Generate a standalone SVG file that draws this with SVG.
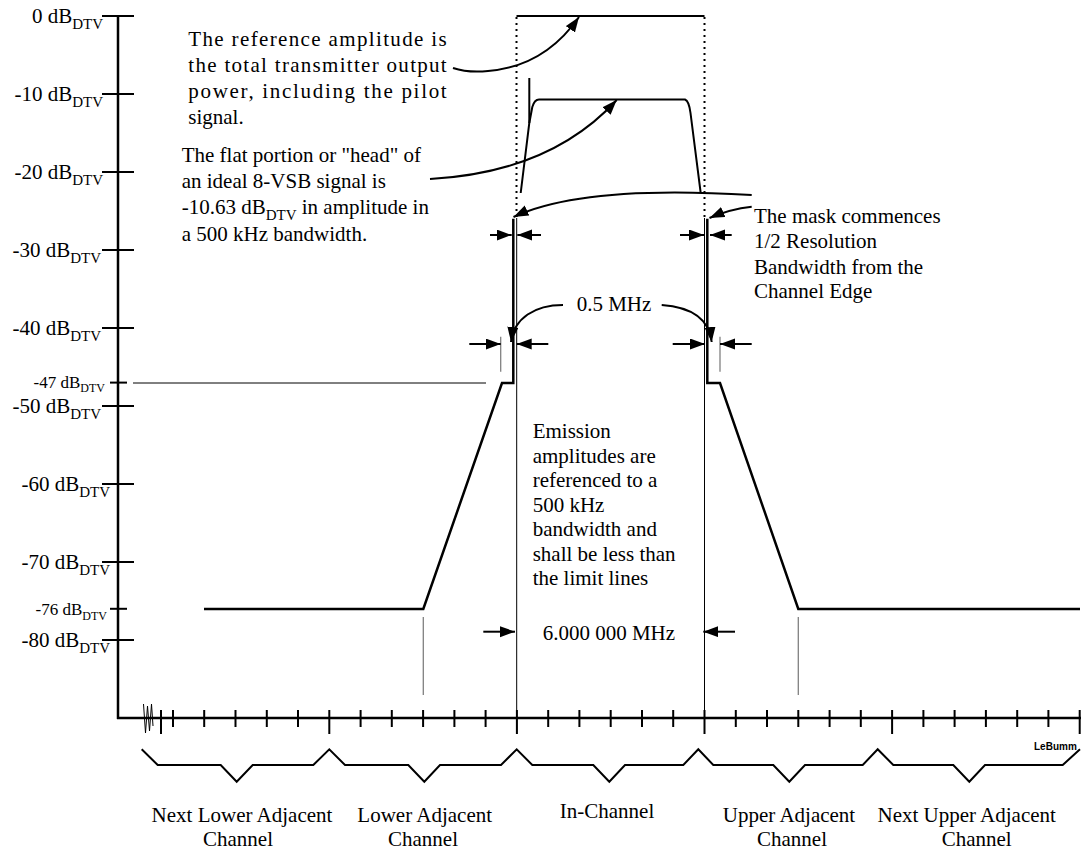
<svg xmlns="http://www.w3.org/2000/svg" width="1084" height="850" viewBox="0 0 1084 850">
  <style>
    .t { font-family: "Liberation Serif", "Times New Roman", serif; font-size: 21px; fill: #000; }
    .sub { font-size: 15px; }
    .small { font-size: 17px; }
    .smallsub { font-size: 12px; }
    .ax { stroke: #000; stroke-width: 2.5; fill: none; }
    .tk { stroke: #000; stroke-width: 2; fill: none; }
    .mask { stroke: #000; stroke-width: 2.5; fill: none; stroke-linejoin: miter; }
    .thin { stroke: #000; stroke-width: 1; fill: none; }
    .gray { stroke: #808080; stroke-width: 1.3; fill: none; }
    .dot { stroke: #000; stroke-width: 2; stroke-dasharray: 2 4; fill: none; }
    .lead { stroke: #000; stroke-width: 2; fill: none; marker-end: url(#ah); }
    .brk { stroke: #000; stroke-width: 2; fill: none; stroke-linejoin: miter; }
  </style>
  <defs>
    <marker id="ah" markerUnits="userSpaceOnUse" markerWidth="16" markerHeight="12" refX="15" refY="5.5" orient="auto">
      <path d="M0,0 L15,5.5 L0,11 Z" fill="#000"/>
    </marker>
  </defs>
  <rect width="1084" height="850" fill="#fff"/>

  <!-- amplitude axis -->
  <g id="y-axis">
    <line class="ax" x1="118" y1="15" x2="118" y2="719"/>
    <g class="tk">
      <line x1="102" y1="16" x2="134" y2="16"/>
      <line x1="102" y1="94" x2="134" y2="94"/>
      <line x1="102" y1="172" x2="134" y2="172"/>
      <line x1="102" y1="250" x2="134" y2="250"/>
      <line x1="102" y1="328" x2="134" y2="328"/>
      <line x1="110" y1="382.6" x2="127" y2="382.6"/>
      <line x1="102" y1="406" x2="134" y2="406"/>
      <line x1="102" y1="484" x2="134" y2="484"/>
      <line x1="102" y1="562" x2="134" y2="562"/>
      <line x1="110" y1="608.8" x2="127" y2="608.8"/>
      <line x1="102" y1="640" x2="134" y2="640"/>
    </g>
    <text class="t" x="103" y="23" text-anchor="end">0 dB<tspan class="sub" dy="6">DTV</tspan></text>
    <text class="t" x="103" y="101" text-anchor="end">-10 dB<tspan class="sub" dy="6">DTV</tspan></text>
    <text class="t" x="103" y="179" text-anchor="end">-20 dB<tspan class="sub" dy="6">DTV</tspan></text>
    <text class="t" x="101" y="257" text-anchor="end">-30 dB<tspan class="sub" dy="6">DTV</tspan></text>
    <text class="t" x="101" y="335" text-anchor="end">-40 dB<tspan class="sub" dy="6">DTV</tspan></text>
    <text class="t small" x="105" y="387.5" text-anchor="end">-47 dB<tspan class="smallsub" dy="4.5">DTV</tspan></text>
    <text class="t" x="101" y="413" text-anchor="end">-50 dB<tspan class="sub" dy="6">DTV</tspan></text>
    <text class="t" x="110" y="491" text-anchor="end">-60 dB<tspan class="sub" dy="6">DTV</tspan></text>
    <text class="t" x="110" y="569" text-anchor="end">-70 dB<tspan class="sub" dy="6">DTV</tspan></text>
    <text class="t small" x="107" y="615" text-anchor="end">-76 dB<tspan class="smallsub" dy="5">DTV</tspan></text>
    <text class="t" x="110" y="647" text-anchor="end">-80 dB<tspan class="sub" dy="6">DTV</tspan></text>
  </g>

  <!-- frequency axis -->
  <g id="x-axis">
    <line class="ax" x1="117" y1="718" x2="1081" y2="718"/>
    <polyline class="thin" points="143.5,704 145.5,733 147.5,706 149.5,731 151.5,704 153,726"/>
    <g class="tk">
      <line x1="161" y1="710" x2="161" y2="734"/>
      <line x1="329.3" y1="710" x2="329.3" y2="734"/>
      <line x1="516.9" y1="710" x2="516.9" y2="734"/>
      <line x1="704.5" y1="710" x2="704.5" y2="734"/>
      <line x1="892.1" y1="710" x2="892.1" y2="734"/>
      <line x1="1079.7" y1="710" x2="1079.7" y2="734"/>
      <path d="M173,710v17 M204.2,710v17 M235.5,710v17 M266.8,710v17 M298,710v17
               M360.6,710v17 M391.8,710v17 M423.1,710v17 M454.4,710v17 M485.6,710v17
               M548.2,710v17 M579.4,710v17 M610.7,710v17 M642,710v17 M673.2,710v17
               M735.8,710v17 M767,710v17 M798.3,710v17 M829.6,710v17 M860.8,710v17
               M923.4,710v17 M954.6,710v17 M985.9,710v17 M1017.2,710v17 M1048.4,710v17"/>
    </g>
    <text x="1034" y="750" font-family="Liberation Sans, Arial, sans-serif" font-size="10" font-weight="bold">LeBumm</text>
  </g>

  <!-- channel brackets and names -->
  <g id="channel-brackets">
    <polyline class="brk" points="141.7,749.3 157.7,765 220.7,765 236.7,781.7 252.7,765 313.3,765 329.3,749.3 345,765 408.3,765 424.3,781.7 440,765 501,765 516.7,749.3 532.3,765 593.3,765 609.3,781.7 625,765 683.3,765 698.3,749.3 713.3,765 773.3,765 789.3,781.7 805,765 862.7,765 877.7,749.3 893.3,765 953.3,765 969.3,781.7 985,765 1062.7,765 1080,749.3"/>
    <g id="ch-next-lower">
      <text class="t" x="242" y="822" text-anchor="middle">Next Lower Adjacent</text>
      <text class="t" x="238" y="846" text-anchor="middle">Channel</text>
    </g>
    <g id="ch-lower">
      <text class="t" x="424.7" y="822" text-anchor="middle">Lower Adjacent</text>
      <text class="t" x="423" y="846" text-anchor="middle">Channel</text>
    </g>
    <g id="ch-in">
      <text class="t" x="607" y="818" text-anchor="middle">In-Channel</text>
    </g>
    <g id="ch-upper">
      <text class="t" x="789" y="822" text-anchor="middle">Upper Adjacent</text>
      <text class="t" x="792" y="846" text-anchor="middle">Channel</text>
    </g>
    <g id="ch-next-upper">
      <text class="t" x="966.7" y="822" text-anchor="middle">Next Upper Adjacent</text>
      <text class="t" x="976.7" y="846" text-anchor="middle">Channel</text>
    </g>
  </g>

  <!-- reference lines -->
  <g id="reference-lines">
    <line class="thin" x1="133" y1="383" x2="486" y2="383"/>
    <line class="dot" x1="516.5" y1="17" x2="516.5" y2="218"/>
    <line class="dot" x1="704.5" y1="17" x2="704.5" y2="218"/>
    <line class="thin" x1="516.7" y1="218" x2="516.7" y2="734"/>
    <line class="thin" x1="704.5" y1="218" x2="704.5" y2="734"/>
    <line class="gray" x1="500.7" y1="336.7" x2="500.7" y2="371.7"/>
    <line class="gray" x1="720" y1="336.7" x2="720" y2="371.7"/>
    <line class="gray" x1="423.3" y1="617" x2="423.3" y2="695"/>
    <line class="gray" x1="798.3" y1="617" x2="798.3" y2="695"/>
  </g>

  <!-- reference level, signal and emission mask -->
  <g id="spectrum">
    <line class="tk" x1="516.5" y1="16" x2="704.5" y2="16"/>
    <line class="tk" x1="529.3" y1="78" x2="529.3" y2="123"/>
    <path class="tk" d="M520.7,193 L529.3,123 L532.3,107 Q534.5,99.5 539,99.5 L685,99.5 Q689,101 690.5,113 L700.7,193"/>
  </g>
  <g id="mask">
    <path class="mask" d="M204,609 L423.3,609 L502,383 L513.3,383 L513.3,218.8"/>
    <path class="mask" d="M707.3,218.8 L707.3,383 L720,383 L798.3,609 L1080,609"/>
  </g>

  <!-- annotations -->
  <g id="note-reference">
    <text class="t" x="188.3" y="46" textLength="258.4" lengthAdjust="spacing">The reference amplitude is</text>
    <text class="t" x="188.3" y="72" textLength="258.4" lengthAdjust="spacing">the total transmitter output</text>
    <text class="t" x="188.3" y="98" textLength="258.4" lengthAdjust="spacing">power, including the pilot</text>
    <text class="t" x="188.3" y="124">signal.</text>
  </g>
  <g id="note-head">
    <text class="t" x="181.7" y="162">The flat portion or "head" of</text>
    <text class="t" x="181.7" y="188">an ideal 8-VSB signal is</text>
    <text class="t" x="181.7" y="214">-10.63 dB<tspan class="sub" dy="6">DTV</tspan><tspan dy="-6"> in amplitude in</tspan></text>
    <text class="t" x="181.7" y="241">a 500 kHz bandwidth.</text>
  </g>
  <g id="note-mask">
    <text class="t" x="754" y="223">The mask commences</text>
    <text class="t" x="754" y="248">1/2 Resolution</text>
    <text class="t" x="754" y="273.5">Bandwidth from the</text>
    <text class="t" x="754" y="298">Channel Edge</text>
  </g>
  <g id="note-half-mhz">
    <text class="t" x="576.7" y="311">0.5 MHz</text>
  </g>
  <g id="note-emission">
    <text class="t" x="532.7" y="438">Emission</text>
    <text class="t" x="532.7" y="462.5">amplitudes are</text>
    <text class="t" x="532.7" y="487">referenced to a</text>
    <text class="t" x="532.7" y="511.5">500 kHz</text>
    <text class="t" x="532.7" y="536">bandwidth and</text>
    <text class="t" x="532.7" y="560.5">shall be less than</text>
    <text class="t" x="532.7" y="585">the limit lines</text>
  </g>
  <g id="note-width">
    <text class="t" x="542.7" y="640">6.000 000 MHz</text>
  </g>

  <!-- leaders and dimension arrows -->
  <g id="connectors">
    <path class="lead" d="M453,68 Q468,73 488,71 C525,68 556,50 579,17"/>
    <path class="lead" d="M430,179 C485,176 560,162 616.7,100"/>
    <path class="lead" d="M751.7,195 C640,188 560,195 513.5,217"/>
    <path class="lead" d="M751.7,206.7 Q730,209 709.5,218"/>
    <path class="lead" d="M563,305 C535,305 514,318 511,342"/>
    <path class="lead" d="M661.7,305 C690,307 709,318 711.7,342"/>

    <line class="lead" x1="490" y1="235" x2="511.7" y2="235"/>
    <line class="lead" x1="541" y1="235" x2="517.3" y2="235"/>
    <line class="lead" x1="680" y1="235" x2="704" y2="235"/>
    <line class="lead" x1="731.7" y1="235" x2="710" y2="235"/>

    <line class="lead" x1="469.3" y1="344" x2="500.7" y2="344"/>
    <line class="lead" x1="548.3" y1="344" x2="516.7" y2="344"/>
    <line class="lead" x1="672.7" y1="344" x2="705" y2="344"/>
    <line class="lead" x1="751.7" y1="344" x2="720" y2="344"/>

    <line class="lead" x1="483.3" y1="631.7" x2="515" y2="631.7"/>
    <line class="lead" x1="735" y1="631.7" x2="703.3" y2="631.7"/>
  </g>
</svg>
